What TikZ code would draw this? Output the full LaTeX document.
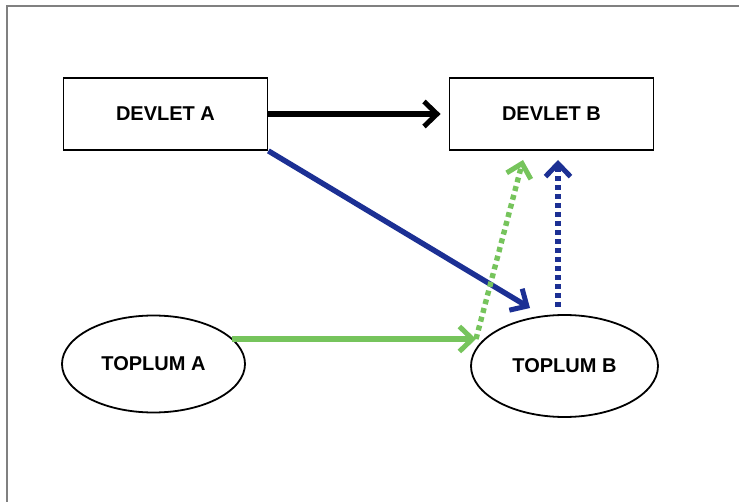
\documentclass[tikz,border=0pt]{standalone}
\usepackage{fontspec}
\setmainfont{Liberation Sans}
\usetikzlibrary{shapes.geometric, arrows.meta}

\definecolor{navy}{RGB}{28,48,148}
\definecolor{leaf}{RGB}{118,196,92}

\begin{document}
\begin{tikzpicture}[x=1pt, y=-1pt,
    devlet/.style={rectangle, draw, line width=1.8pt, inner sep=0pt,
      minimum width=204pt, minimum height=72pt,
      font=\bfseries\fontsize{20}{20}\selectfont},
    toplum/.style={ellipse, draw, line width=1.8pt, inner sep=0pt,
      font=\bfseries\fontsize{20}{20}\selectfont},
    link/.style={line width=5.4pt,
      -{Straight Barb[length=13pt,width=25pt,line width=5pt]}},
    dots/.style={link, dash pattern=on 5pt off 4pt}]

  \useasboundingbox (0,0) rectangle (739,502);
  \draw[gray, line width=2pt] (6.5,502) -- (6.5,6.5) -- (739,6.5);

  \node[devlet] (devA) at (165.5,114) {DEVLET A};
  \node[devlet] (devB) at (551.5,114) {DEVLET B};
  \node[toplum, minimum width=183pt, minimum height=97pt] (topA) at (153.5,364) {TOPLUM A};
  \node[toplum, minimum width=187pt, minimum height=102pt] (topB) at (564.5,366) {TOPLUM B};

  \coordinate (bTip) at (530,308);
  \coordinate (gTip) at (476,339);
  \coordinate (gUp) at (523,160);
  \coordinate (bFoot) at (558,307);
  \coordinate (bUp) at (558,160);

  \draw[link] (devA.east) -- ([xshift=-8pt]devB.west);
  \draw[link, navy] (devA.south east) -- (bTip);
  \draw[link, leaf] (gTip -| topA.18) -- (gTip);
  \draw[dots, leaf] (gTip) -- (gUp);
  \draw[dots, navy] (bFoot) -- (bUp);
\end{tikzpicture}
\end{document}
